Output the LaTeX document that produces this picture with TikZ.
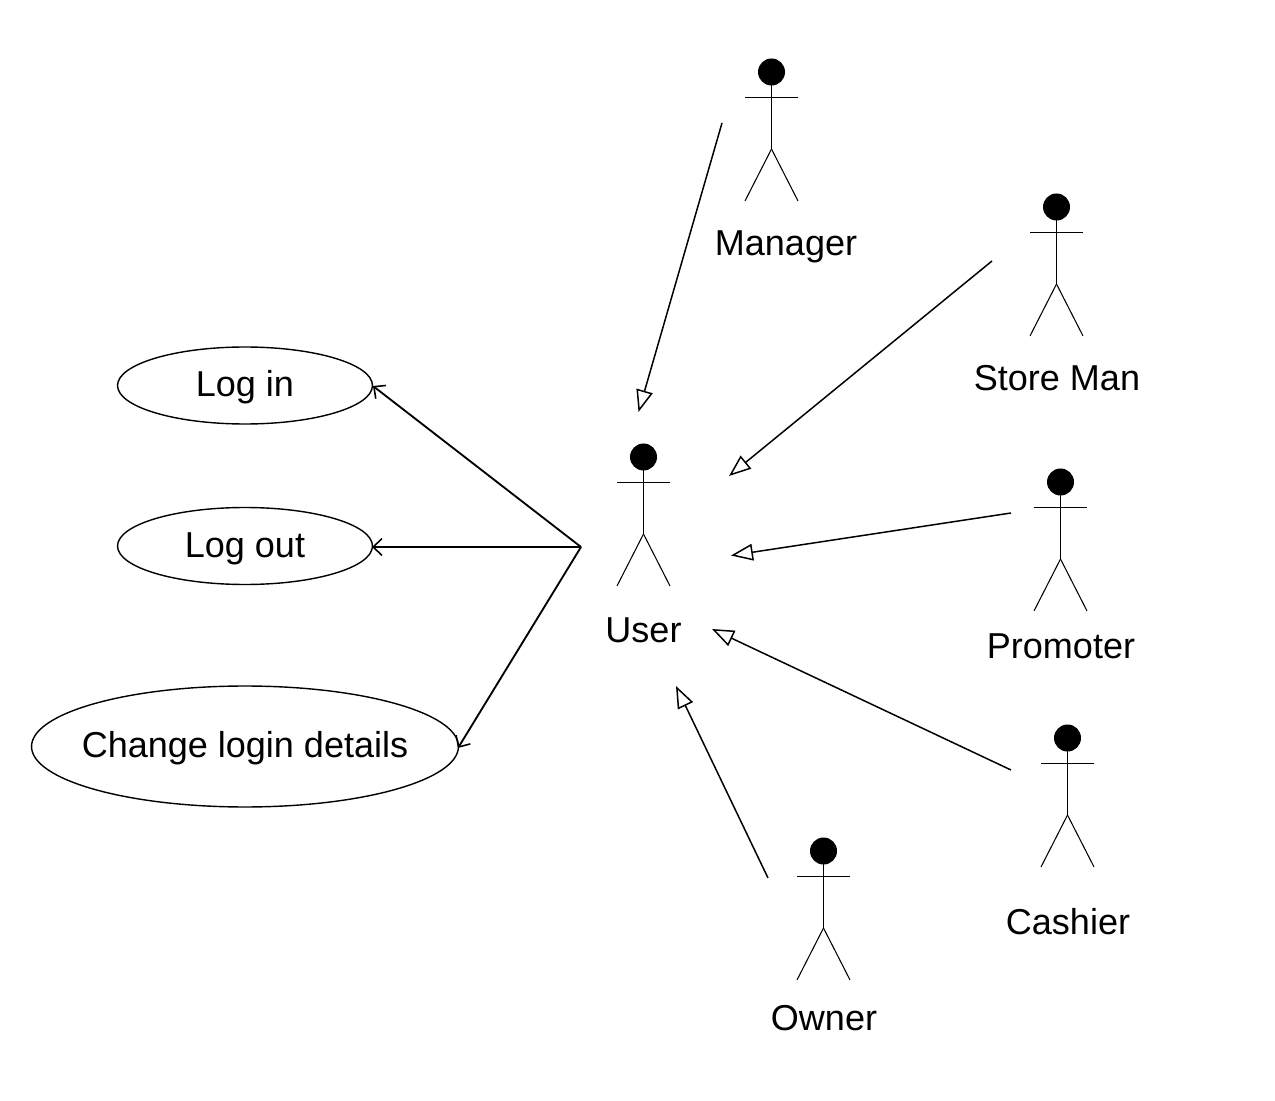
\documentclass[tikz,border=0pt]{standalone}
\usepackage{fontspec}
\setmainfont{Liberation Sans}
\usetikzlibrary{arrows.meta,shapes.geometric}
\tikzset{
  x=0.02cm,y=-0.02cm,
  usecase/.style={draw,ellipse,line width=0.8pt,inner sep=0pt},
  lbl/.style={font=\fontsize{20.5}{24}\selectfont,inner sep=0pt,anchor=base},
  limb/.style={line width=0.6pt},
  gen/.style={line width=0.85pt,-{Triangle[open,length=12.5pt,width=9.5pt,fill=white]}},
  assoc/.style={line width=1.05pt,-{Straight Barb[length=5pt,width=9.5pt,line width=0.9pt]}},
}
\newcommand{\actor}[3]{% name, head x, head y
  \fill (#2,#3) circle (13.5);
  \draw[limb] (#2,#3) -- ++(0,77) coordinate (#1hip);
  \draw[limb] (#2-26.5,#3+25.5) -- (#2+26.5,#3+25.5);
  \draw[limb] (#1hip) -- ++(-26.5,52);
  \draw[limb] (#1hip) -- ++(26.5,52);
}
\begin{document}
\begin{tikzpicture}
\useasboundingbox (0,0) rectangle (1275,1101);
\actor{man}{771.5}{72}
\actor{sto}{1056.5}{207}
\actor{usr}{643.5}{457}
\actor{pro}{1060.5}{482}
\actor{cas}{1067.5}{738}
\actor{own}{823.5}{851}
\node[lbl] (manL) at (786,256) {Manager};
\node[lbl] (stoL) at (1057,391) {Store Man};
\node[lbl] (usrL) at (643.5,642) {User};
\node[lbl] (proL) at (1061,658) {Promoter};
\node[lbl] (casL) at (1068,934) {Cashier};
\node[lbl] (ownL) at (824,1030) {Owner};
\node[usecase,minimum width=5.1cm,minimum height=1.54cm] (login) at (245,385.5) {};
\node[lbl] (loginL) at (245,397) {Log in};
\node[usecase,minimum width=5.1cm,minimum height=1.54cm] (logout) at (245,546) {};
\node[lbl] (logoutL) at (245,558) {Log out};
\node[usecase,minimum width=8.54cm,minimum height=2.42cm] (change) at (245,746.5) {};
\node[lbl] (changeL) at (245,757) {Change login details};
\coordinate (hub) at (581,547);
\coordinate (a1) at (722,123); \coordinate (a2) at (638.5,412);
\coordinate (b1) at (992,261); \coordinate (b2) at (729,476);
\coordinate (c1) at (1011,513); \coordinate (c2) at (731,555.5);
\coordinate (d1) at (1011,770); \coordinate (d2) at (712,629);
\coordinate (e1) at (768,878); \coordinate (e2) at (676,686);
\draw[gen] (a1) -- (a2);
\draw[gen] (b1) -- (b2);
\draw[gen] (c1) -- (c2);
\draw[gen] (d1) -- (d2);
\draw[gen] (e1) -- (e2);
\draw[assoc] (hub) -- (373,386);
\draw[assoc] (hub) -- (372,547);
\draw[assoc] (hub) -- (458,748);
\end{tikzpicture}
\end{document}
